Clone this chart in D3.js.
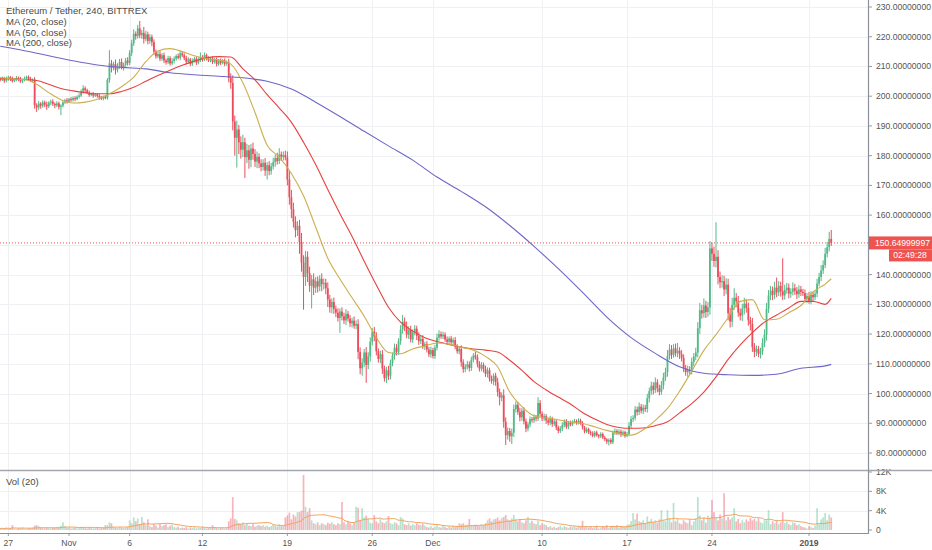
<!DOCTYPE html>
<html><head><meta charset="utf-8">
<script src="https://cdn.jsdelivr.net/npm/d3@7"></script>
<style>body{margin:0;background:#fff;overflow:hidden}svg{display:block;font-family:"Liberation Sans",Arial,sans-serif}</style>
</head><body><svg id="c" width="932" height="550"></svg>
<script>
// ---------- DATA ----------
const title = "Ethereum / Tether, 240, BITTREX";
const legendLabels = ["MA (20, close)", "MA (50, close)", "MA (200, close)"];
const startTime = Date.UTC(2018, 9, 26, 8); // first 4h candle
const barHours = 4;
const firstOpen = 205.8;
const close = [
205.5,206.0,205.2,205.8,206.4,205.9,205.1,205.6,206.2,205.7,205.0,205.4,206.0,206.5,205.8,205.3,205.6,
197.0,196.2,197.5,196.8,197.9,197.2,196.6,197.8,198.2,197.4,196.9,197.6,196.4,196.8,
197.9,198.6,198.2,199.0,198.7,199.4,199.0,199.8,200.2,
201.5,202.7,202.0,201.2,200.4,200.8,200.2,200.6,200.1,199.6,199.2,199.8,199.4,
205.5,211.0,209.5,210.8,208.9,210.2,211.5,209.8,210.6,212.0,211.2,
214.5,217.8,221.0,220.2,222.8,220.5,221.3,219.2,220.8,218.6,219.9,218.2,215.0,213.4,
214.2,212.6,213.8,212.0,211.4,212.8,211.0,211.8,212.6,213.5,212.9,214.4,213.8,
212.8,211.6,212.4,210.9,211.8,212.6,211.3,212.2,213.2,212.4,213.8,212.7,212.0,
212.6,211.5,212.3,210.8,211.9,211.2,212.0,210.9,211.4,206.2,204.5,
191.5,186.0,188.8,184.5,182.0,184.5,179.5,181.8,178.6,182.4,180.6,178.0,179.6,177.4,
176.2,177.6,175.0,176.8,174.8,176.4,177.8,179.2,178.2,180.4,179.6,180.2,179.4,
172.0,166.0,162.0,157.8,155.0,156.4,151.0,144.0,139.2,146.0,
140.5,136.2,138.4,135.6,137.8,136.0,138.6,136.8,137.2,135.4,131.6,129.0,130.8,128.4,
127.2,125.4,127.6,126.0,124.6,126.8,125.2,123.6,124.5,122.8,123.4,114.0,108.5,
110.4,113.8,109.6,112.5,117.4,120.8,119.2,114.2,111.6,113.2,108.4,105.2,107.8,106.0,
110.2,112.8,115.4,114.0,117.6,121.5,124.2,122.6,119.8,121.4,118.2,120.6,121.8,119.4,117.6,
118.4,115.8,116.6,114.8,113.2,114.6,112.6,115.4,118.8,120.0,119.2,119.8,
118.2,117.4,118.5,117.2,118.0,115.8,114.2,115.0,110.5,108.2,109.0,109.8,108.6,
111.4,112.8,112.2,110.0,108.4,109.6,108.2,106.6,107.8,105.0,104.2,106.0,103.8,100.5,98.6,99.4,
90.5,86.0,87.4,85.6,86.8,94.8,96.2,93.8,92.0,94.2,90.6,88.2,89.6,91.4,91.0,92.0,91.6,
96.8,93.2,91.6,92.4,91.0,90.2,91.6,89.8,90.6,88.6,87.4,88.2,89.4,90.6,88.8,90.2,89.6,
90.4,90.8,90.2,90.9,90.0,88.6,87.2,88.0,87.0,86.6,85.8,86.9,86.0,85.6,86.4,85.2,84.6,83.8,84.4,83.6,
86.8,87.4,86.6,87.2,86.2,87.0,85.8,86.4,89.2,91.4,91.8,94.6,93.8,95.6,94.2,95.2,94.8,98.4,100.8,
102.6,101.2,103.8,101.8,100.6,102.8,105.4,107.2,112.6,114.8,113.0,115.2,113.6,114.4,113.2,112.0,
108.6,107.2,108.0,107.6,110.6,112.4,113.8,122.0,128.0,127.0,129.6,127.4,129.0,148.8,147.0,144.6,146.0,139.2,137.4,
137.8,135.0,136.6,127.0,124.2,129.8,132.2,131.0,127.2,126.2,128.6,130.2,128.8,124.6,123.4,115.6,114.0,115.0,113.4,114.2,117.0,119.8,
128.5,133.0,134.6,133.2,135.6,134.0,136.2,134.4,133.0,134.8,135.6,133.6,134.2,135.4,134.6,133.4,135.0,134.2,133.8,
131.8,132.8,131.2,133.2,132.4,133.6,137.0,139.2,141.4,143.2,147.0,149.2,152.0,150.65
];
// wick length above / below the candle body
const wickHi = [
.4,.6,.5,.8,.5,.4,.7,.5,.6,.4,.8,.5,.6,.4,.5,.7,.4,
.8,.6,.9,.5,.7,.6,1.0,.5,.6,.8,.5,.7,.6,.5,
.6,.5,.8,.4,.7,.5,.6,.5,.8,
.8,1.0,.6,.5,.7,.4,.6,.5,.4,.6,.5,.4,.5,
.6,4.5,1.2,.8,1.5,.9,1.0,1.2,.7,.9,1.1,
1.0,1.2,1.5,.8,1.2,2.5,1.0,2.0,1.2,.9,1.0,.8,.9,.7,
.8,1.0,.7,.9,.6,.8,.7,1.0,.8,.6,.9,.7,.6,
.6,.8,.7,.5,.9,.6,.7,.8,1.5,.6,.9,.5,.7,
.6,.8,.5,.7,.6,.8,.5,.7,.6,1.2,1.5,
2.5,2.0,3.0,1.5,2.0,2.5,1.5,2.2,1.8,1.5,2.0,1.6,1.8,1.2,
1.4,1.2,1.6,1.0,1.4,1.2,1.5,1.2,1.8,2.1,1.0,1.2,1.5,
2.0,3.0,2.5,2.2,1.8,1.6,2.0,3.0,2.5,2.0,
1.8,2.2,1.5,2.0,1.4,1.6,1.2,1.8,1.5,1.4,2.0,1.6,1.2,1.5,
1.2,1.5,1.0,1.4,1.2,1.6,1.0,1.2,1.0,1.4,1.2,1.6,1.5,
1.5,1.2,1.8,1.4,1.5,1.2,1.6,1.4,1.0,1.2,1.4,1.0,1.2,1.5,
1.2,1.0,1.4,1.2,1.0,1.5,2.2,1.4,1.6,1.2,1.4,1.0,1.2,1.0,1.2,
1.0,1.2,.8,1.0,.9,1.2,.8,1.0,1.4,1.3,.9,1.0,
.8,1.0,.7,.9,.8,1.0,.8,.9,1.2,1.0,.9,1.2,1.0,
1.0,.8,1.2,1.0,.9,1.0,.8,1.2,1.0,.9,1.1,.8,1.0,1.5,1.2,1.0,
2.0,1.5,1.2,1.0,1.4,1.5,1.2,1.0,1.4,.9,1.2,1.0,.8,.9,.7,1.0,.8,
2.0,1.0,.8,.9,.7,.8,.9,.6,.8,.7,.6,.8,.9,.7,.8,.6,.7,
.6,.7,.5,.8,.6,.7,.5,.6,.5,.6,.7,.5,.6,.4,.6,.5,.6,.4,.5,.6,
.8,.9,.6,.8,.7,.6,.5,.7,1.2,1.0,.9,1.2,1.0,1.4,.9,1.1,1.0,1.5,1.2,
1.4,1.2,1.6,1.0,1.2,1.4,1.6,1.5,2.0,1.8,1.5,1.4,1.6,2.6,1.2,1.4,
1.2,1.0,1.4,1.2,1.5,1.2,1.6,2.0,2.5,1.8,2.4,1.6,1.8,2.5,2.0,2.4,11.6,2.2,1.8,
2.0,1.8,2.2,2.0,1.8,2.4,3.2,1.6,1.8,1.4,1.6,2.0,1.5,1.8,1.2,2.0,1.4,1.2,1.0,1.2,1.6,1.8,
2.0,1.8,1.6,1.4,2.0,3.4,1.6,1.4,11.1,1.8,1.6,1.4,1.2,2.0,1.5,1.2,1.4,1.2,1.0,
1.2,1.0,1.4,1.2,1.0,1.2,1.6,1.4,1.8,1.6,2.0,1.8,2.4,3.0
];
const wickLo = [
.5,.4,.7,.5,.6,.8,.5,.4,.6,.7,.5,.6,.4,.5,.7,.5,.6,
1.2,1.5,.8,1.0,.7,.9,1.2,.6,.8,.7,1.0,.6,.9,2.8,
.6,.5,.7,.4,.6,.5,.7,.4,.6,
.5,.6,.8,.5,.6,.4,.7,.5,.6,.8,.5,.6,.4,
.6,1.0,1.5,.8,1.6,.9,1.0,.8,1.2,.7,.9,
.8,1.0,.9,1.2,.8,1.0,1.2,1.5,.8,1.2,1.0,1.4,1.2,.8,
.6,.8,.7,.9,.8,.6,.7,.6,.8,.7,.5,.8,.6,
.7,.9,.6,.8,.7,.5,.8,.6,.7,.8,.6,.7,.5,
.6,.7,.5,.8,.6,.7,.5,.8,.6,1.5,2.0,
3.0,6.0,10.0,4.0,3.0,2.5,7.0,2.0,3.0,2.5,2.0,1.8,2.2,1.6,
1.5,1.2,1.8,3.0,1.4,1.2,1.0,1.5,1.2,1.0,1.4,1.2,1.0,
2.0,2.5,3.0,2.0,2.5,2.0,4.0,3.0,11.0,3.0,
3.0,2.0,7.6,2.5,1.8,2.0,1.6,2.4,1.8,2.0,2.5,1.8,2.0,1.6,
1.5,1.2,5.0,1.4,1.2,1.6,1.0,1.2,1.4,1.0,1.2,2.5,2.0,
2.5,1.5,6.0,1.4,1.8,1.2,1.6,1.4,1.2,1.4,1.8,1.2,1.7,1.5,
1.2,1.0,1.4,1.2,1.0,1.2,1.4,1.6,1.2,1.4,1.0,1.2,1.0,1.4,1.2,
1.0,.8,1.2,1.0,.9,1.2,.8,1.0,.9,1.0,.8,.9,
.8,1.0,.9,.8,1.0,.9,.8,1.0,1.5,1.2,1.0,.9,1.2,
1.0,.9,.8,1.2,1.0,.9,1.1,1.0,1.2,1.0,.9,1.4,1.2,1.5,2.6,1.2,
2.0,3.3,1.5,1.8,2.6,1.4,1.2,1.0,1.4,1.2,1.0,1.2,.9,1.0,.8,.9,1.0,
.8,1.0,.9,.8,1.2,.9,.8,1.0,.7,.9,.8,.7,.9,.8,.7,.8,.6,
.6,.5,.7,.6,.5,.7,.6,.5,.6,.7,.5,.6,.5,.7,.6,.5,.6,.8,1.3,.6,
.6,.7,.5,.6,.8,.6,.7,.5,.8,.9,1.0,.8,1.2,1.0,.9,1.1,1.0,1.2,1.4,
1.2,1.5,1.0,1.4,1.2,1.0,1.4,1.2,1.5,1.2,1.4,1.0,1.2,1.4,1.6,1.2,
1.4,1.2,1.6,1.0,1.2,1.4,1.2,1.6,2.0,1.8,1.5,2.0,1.6,2.5,2.4,2.0,2.2,2.5,2.0,
1.8,2.2,1.6,2.4,2.0,1.8,1.6,2.0,1.4,1.6,1.8,2.0,1.6,1.8,2.2,1.6,1.8,1.4,1.2,1.6,1.2,1.4,
2.0,1.4,1.6,1.8,1.4,1.6,1.2,1.8,1.6,1.4,1.2,1.6,1.4,1.2,1.4,1.6,1.2,1.4,1.0,
1.2,1.4,1.0,1.2,1.4,1.0,1.2,1.0,1.4,1.2,1.0,1.2,1.4,1.0
];
// volume in thousands
const volume = [
.3,.4,.2,.5,.3,.4,1.0,.3,.2,.4,.3,.5,.3,.2,.4,.3,.5,
.9,1.0,.8,.5,.4,.3,.5,.4,.3,.5,.4,.6,.5,.9,
1.6,.8,.4,.5,.3,.4,.5,.3,.4,
.6,.5,.4,.3,.5,.4,.3,.4,.5,.3,.4,.6,1.0,
1.0,1.6,1.4,.6,.5,.4,.6,.5,.4,.5,.6,
2.0,1.4,2.6,1.8,2.4,1.2,2.7,1.6,1.0,2.2,.8,.6,1.2,.9,
.5,1.2,.8,1.0,1.2,.6,.9,1.1,.6,.5,.7,.4,.5,
.4,.6,.3,.5,.4,.6,.3,.5,.4,.6,.5,.3,.4,
.5,1.0,.6,.4,.3,.5,.4,.3,.5,1.8,2.4,
6.8,2.3,2.0,1.4,1.2,1.6,1.0,1.4,.9,.8,1.2,.7,.9,1.0,
.8,1.0,.7,.9,.6,.8,1.1,.9,.7,1.2,.8,.9,2.6,
3.0,3.6,2.2,3.2,2.8,3.7,3.7,4.0,11.4,4.8,
3.7,4.5,2.0,1.4,1.2,1.6,1.0,1.4,1.2,1.0,1.5,1.3,1.6,1.2,
1.0,1.4,1.2,5.8,1.6,1.2,1.8,1.4,1.0,1.6,4.8,4.6,2.0,
4.5,2.6,3.0,2.3,1.5,1.4,3.1,1.8,1.4,2.3,1.6,1.4,1.8,2.9,
1.4,1.2,1.6,1.4,1.0,2.7,2.4,1.2,1.0,1.4,.9,1.2,1.0,1.4,1.1,
1.0,1.3,.9,.6,.5,.8,.4,.7,1.0,.6,.5,.8,
.6,.4,.7,.5,.9,.6,.8,1.4,1.2,1.4,1.0,1.1,2.3,
1.0,.9,1.1,1.0,.8,1.2,1.0,1.4,2.0,2.4,1.8,2.2,2.3,2.6,2.0,2.5,
2.7,3.1,2.2,2.0,2.4,3.1,2.2,1.8,2.3,1.6,1.4,2.0,2.7,1.5,1.9,1.4,1.2,
1.9,1.0,1.4,1.2,1.0,.6,.8,.5,.7,.4,.6,.9,.5,.8,.6,.4,.7,
.6,.8,.5,.9,.7,1.9,.6,.8,.5,.7,.4,.6,.9,.3,.5,.8,.6,1.0,.4,.7,
.9,.6,1.0,.5,.8,.7,.6,1.0,1.2,1.8,3.5,2.2,3.4,1.8,1.6,2.0,1.4,2.8,1.8,
2.3,1.6,2.0,1.5,2.2,4.1,2.0,1.8,4.1,2.4,1.6,5.6,1.8,2.3,1.4,1.2,
2.0,1.6,1.4,2.2,1.0,1.8,2.4,6.8,3.0,2.0,2.6,1.5,3.0,2.4,6.2,3.7,2.5,2.0,3.2,
2.4,7.6,2.0,2.7,2.2,2.6,4.5,1.8,2.3,1.4,2.0,1.6,2.2,1.8,2.5,2.0,2.3,1.8,2.4,1.6,1.4,2.0,
2.0,4.1,1.2,1.8,1.4,2.0,1.2,1.6,3.7,1.4,1.8,1.2,1.0,1.6,1.4,1.0,1.2,.8,.6,
.5,.3,.8,.6,.4,.9,4.5,1.2,2.2,2.6,3.5,2.0,3.2,2.6
];
// moving averages, one value per day (every 6 candles); last = final candle
const maStep = 6;
const ma20 = [206.2,205.8,205.6,204.0,201.2,198.8,197.7,198.0,199.0,200.8,203.2,206.4,211.6,215.2,216.0,215.0,213.6,212.6,212.2,210.8,
204.5,194.5,183.5,179.5,174.0,166.5,156.0,145.5,138.5,132.2,126.0,118.8,113.8,113.4,115.0,116.0,117.0,116.6,115.6,114.6,
112.5,109.0,100.5,95.6,92.5,91.8,91.2,90.4,89.9,88.8,87.6,86.6,86.0,87.8,91.0,95.0,100.8,107.5,114.5,119.8,
125.5,131.0,131.6,124.8,125.0,127.2,129.6,134.2,136.8,138.6];
const ma50 = [206.0,205.8,205.6,205.3,204.0,202.6,201.8,201.2,200.8,200.8,201.6,203.0,205.0,207.0,208.7,210.4,211.8,212.9,213.3,213.2,
209.2,205.5,200.5,196.0,191.2,184.5,177.0,168.6,160.5,152.8,144.5,136.5,129.0,124.0,121.0,118.8,117.5,116.5,115.6,115.0,
114.6,114.0,111.2,107.8,104.0,101.2,98.8,96.5,93.6,91.4,89.6,88.6,88.3,88.4,89.2,90.5,93.5,96.6,100.5,105.6,
111.5,116.4,120.5,124.0,126.4,128.8,131.0,131.0,130.0,132.0];
const ma200Step = 12;
const ma200 = [216.8,215.3,213.6,211.9,210.5,209.7,209.2,207.9,207.2,206.7,206.2,205.0,202.4,198.0,193.2,188.2,183.3,178.5,
172.8,168.0,162.8,156.5,149.5,142.0,134.0,125.7,118.8,113.5,109.0,106.8,106.3,106.1,106.5,108.5,109.3,109.8];
const volMaLength = 20;
const priceTicks = [80,90,100,110,120,130,140,150,160,170,180,190,200,210,220,230];
const volTicks = [0,4,8,12];
const dateTicks = [
  {d: Date.UTC(2018,9,27), label: "27"}, {d: Date.UTC(2018,10,1), label: "Nov"},
  {d: Date.UTC(2018,10,6), label: "6"}, {d: Date.UTC(2018,10,12), label: "12"},
  {d: Date.UTC(2018,10,19), label: "19"}, {d: Date.UTC(2018,10,26), label: "26"},
  {d: Date.UTC(2018,11,1), label: "Dec"}, {d: Date.UTC(2018,11,10), label: "10"},
  {d: Date.UTC(2018,11,17), label: "17"}, {d: Date.UTC(2018,11,24), label: "24"},
  {d: Date.UTC(2019,0,1), label: "2019", bold: true}
];
const lastPriceLabel = "150.64999997";
const countdownLabel = "02:49:28";

// ---------- CHART ----------
const C = {up: "#53b987", down: "#eb4d5c", ma20: "#cdae4c", ma50: "#e8403e", ma200: "#6e66c8",
  grid: "#eef0f4", text: "#555", axis: "#9a9ca3", label: "#ef5350", volMa: "#f5a25a"};
const W = 932, H = 550, plotR = 868, priceB = 470, volT = 471, volB = 533;
const svg = d3.select("#c");
const x = d3.scaleUtc().domain([Date.UTC(2018,10,1), Date.UTC(2019,0,1)]).range([69, 809]);
const y = d3.scaleLinear().domain([80, 230]).range([453, 7]);
const yv = d3.scaleLinear().domain([0, 12]).range([530, 472]);

const N = close.length;
const tOf = i => new Date(startTime + i * barHours * 3600e3);
const bars = close.map((c, i) => {
  const o = i === 0 ? firstOpen : close[i - 1];
  const top = Math.max(o, c), bot = Math.min(o, c);
  return {t: tOf(i), o, c, h: top + (wickHi[i] || 0), l: bot - (wickLo[i] || 0), v: volume[i] || 0, up: c >= o};
});
const yl = y(close[N - 1]);

const defs = svg.append("defs");
defs.append("clipPath").attr("id", "cp").append("rect").attr("x", 0).attr("y", 0).attr("width", plotR).attr("height", priceB);
defs.append("clipPath").attr("id", "cv").append("rect").attr("x", 0).attr("y", volT).attr("width", plotR).attr("height", volB - volT);

// grid
const g = svg.append("g");
g.selectAll(".hg").data(priceTicks).join("line").attr("x1", 0).attr("x2", plotR)
  .attr("y1", d => Math.round(y(d)) + .5).attr("y2", d => Math.round(y(d)) + .5).attr("stroke", C.grid);
g.selectAll(".vg").data(volTicks.filter(d => d > 0 && d < 12)).join("line").attr("x1", 0).attr("x2", plotR)
  .attr("y1", d => Math.round(yv(d)) + .5).attr("y2", d => Math.round(yv(d)) + .5).attr("stroke", C.grid);
g.selectAll(".xg").data(dateTicks).join("line").attr("x1", d => Math.round(x(d.d)) + .5).attr("x2", d => Math.round(x(d.d)) + .5)
  .attr("y1", 0).attr("y2", volB).attr("stroke", C.grid);

// candles
const pc = svg.append("g").attr("clip-path", "url(#cp)");
const bw = 1.8;
pc.selectAll(".wk").data(bars).join("line").attr("x1", d => x(d.t)).attr("x2", d => x(d.t))
  .attr("y1", d => y(d.h)).attr("y2", d => y(d.l)).attr("stroke", d => d.up ? C.up : C.down).attr("stroke-width", 1);
pc.selectAll(".bd").data(bars).join("rect").attr("x", d => x(d.t) - bw / 2).attr("width", bw)
  .attr("y", d => y(Math.max(d.o, d.c))).attr("height", d => Math.max(1, Math.abs(y(d.o) - y(d.c))))
  .attr("fill", d => d.up ? C.up : C.down);

// moving averages
const maPts = (arr, step) => arr.map((v, k) => ({t: tOf(Math.min(k * step, N - 1)), v}));
const line = d3.line().x(d => x(d.t)).y(d => y(d.v)).curve(d3.curveMonotoneX);
[[ma200, ma200Step, C.ma200], [ma50, maStep, C.ma50], [ma20, maStep, C.ma20]].forEach(([arr, st, col]) => {
  pc.append("path").datum(maPts(arr, st)).attr("d", line).attr("fill", "none").attr("stroke", col).attr("stroke-width", 1.1);
});

// last price dotted line
svg.append("line").attr("x1", 0).attr("x2", plotR).attr("y1", yl).attr("y2", yl)
  .attr("stroke", C.label).attr("stroke-width", 1).attr("stroke-dasharray", "1,2");

// volume
const vc = svg.append("g").attr("clip-path", "url(#cv)");
vc.selectAll(".vb").data(bars).join("rect").attr("x", d => x(d.t) - 0.85).attr("width", 1.7)
  .attr("y", d => yv(d.v)).attr("height", d => yv(0) - yv(d.v))
  .attr("fill", d => d.up ? C.up : C.down).attr("fill-opacity", 0.42);
const volMa = bars.map((d, i) => {
  const s = bars.slice(Math.max(0, i - volMaLength + 1), i + 1);
  return {t: d.t, v: d3.mean(s, e => e.v)};
});
vc.append("path").datum(volMa).attr("d", d3.line().x(d => x(d.t)).y(d => yv(d.v)))
  .attr("fill", "none").attr("stroke", C.volMa).attr("stroke-width", 1);

// axes (price labels hidden behind the last-price tag are not drawn)
const visiblePriceTicks = priceTicks.filter(d => Math.abs(y(d) - yl) > 10);
const ax = svg.append("g").attr("font-size", 8.6).attr("fill", C.text);
ax.selectAll(".pl").data(visiblePriceTicks).join("text").attr("x", 876).attr("y", d => y(d) + 3)
  .text(d => d.toFixed(8));
ax.selectAll(".pt").data(priceTicks).join("line").attr("x1", plotR).attr("x2", plotR + 4)
  .attr("y1", d => y(d)).attr("y2", d => y(d)).attr("stroke", C.axis);
ax.selectAll(".vl").data(volTicks).join("text").attr("x", 876).attr("y", d => yv(d) + 3)
  .text(d => d === 0 ? "0" : d + "K");
ax.selectAll(".vt").data(volTicks).join("line").attr("x1", plotR).attr("x2", plotR + 4)
  .attr("y1", d => yv(d)).attr("y2", d => yv(d)).attr("stroke", C.axis);
ax.selectAll(".dl").data(dateTicks).join("text").attr("x", d => x(d.d)).attr("y", 546)
  .attr("text-anchor", "middle").attr("font-weight", d => d.bold ? "bold" : null).text(d => d.label);
ax.selectAll(".dt").data(dateTicks).join("line").attr("x1", d => x(d.d)).attr("x2", d => x(d.d))
  .attr("y1", volB).attr("y2", volB + 3).attr("stroke", C.axis);

// frame lines
svg.append("line").attr("x1", 0).attr("x2", W).attr("y1", 470.5).attr("y2", 470.5).attr("stroke", "#a3a6ad").attr("stroke-width", 1.6);
svg.append("line").attr("x1", 0).attr("x2", plotR).attr("y1", volB + .5).attr("y2", volB + .5).attr("stroke", "#8d9098").attr("stroke-width", 1.2);
svg.append("line").attr("x1", plotR + .5).attr("x2", plotR + .5).attr("y1", 0).attr("y2", volB + 1).attr("stroke", "#8d9098").attr("stroke-width", 1.2);

// last price labels
svg.append("rect").attr("x", plotR + 1).attr("y", yl - 6.5).attr("width", W - plotR - 1).attr("height", 13).attr("fill", C.label);
svg.append("text").attr("x", 875).attr("y", yl + 3).attr("font-size", 8.6).attr("fill", "#fff").text(lastPriceLabel);
svg.append("rect").attr("x", 889).attr("y", yl + 6.5).attr("width", W - 889).attr("height", 12).attr("fill", C.label);
svg.append("text").attr("x", 910).attr("y", yl + 15.5).attr("font-size", 8.6).attr("fill", "#fff").attr("text-anchor", "middle").text(countdownLabel);

// legends
const lg = svg.append("g").attr("font-size", 9.5).attr("fill", "#4a4a4a");
lg.append("text").attr("x", 6).attr("y", 13.5).text(title);
lg.selectAll(".ml").data(legendLabels).join("text").attr("x", 6).attr("y", (d, i) => 25 + i * 10.6).text(d => d);
svg.append("text").attr("x", 6).attr("y", 484.5).attr("font-size", 9.5).attr("fill", "#4a4a4a").text("Vol (20)");
</script></body></html>
